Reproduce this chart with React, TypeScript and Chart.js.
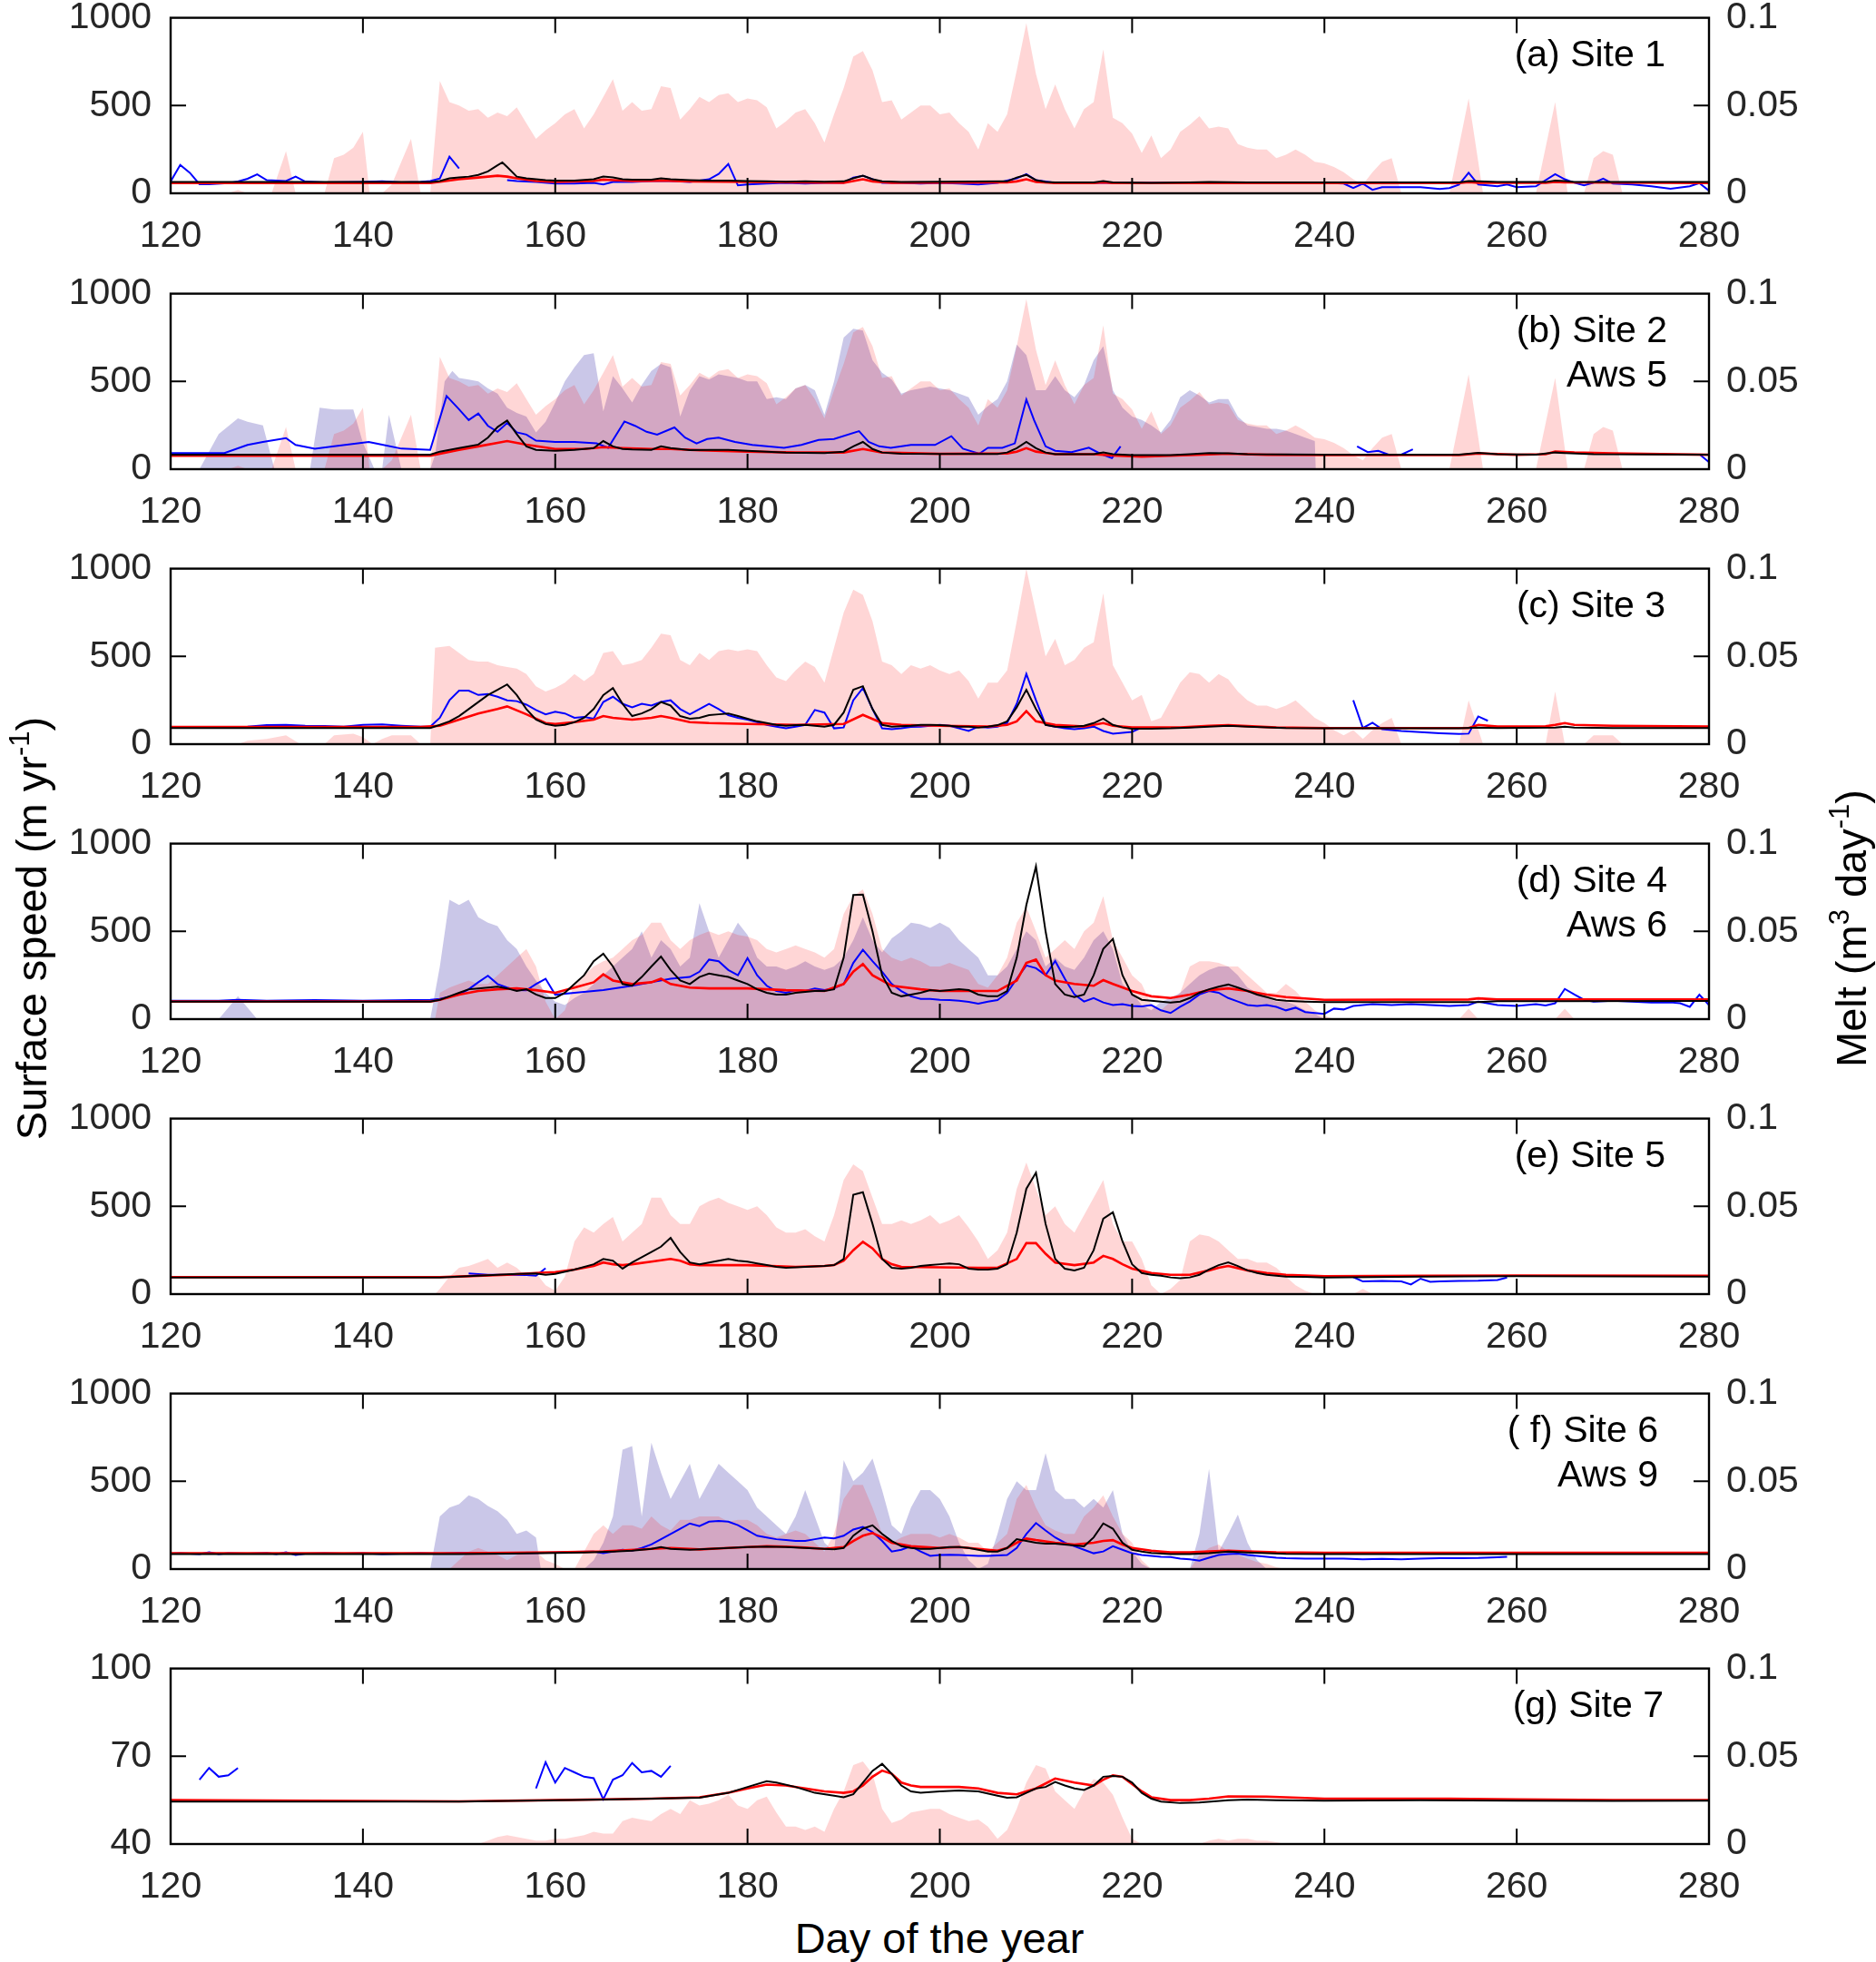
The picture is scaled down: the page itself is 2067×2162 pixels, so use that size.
import { useEffect, useRef } from "react";
import { Chart, registerables } from "chart.js";

Chart.register(...registerables);

type Pt = [number, number | null];

// axes
const dayTicks = [120, 140, 160, 180, 200, 220, 240, 260, 280];
const speedTicks = [0, 500, 1000];
const speedTicksG = [40, 70, 100];
const meltTicks = [0, 0.05, 0.1];
const meltTickLabels = ["0", "0.05", "0.1"];

// panel captions
const labelsA = ["(a) Site 1"];
const labelsB = ["(b) Site 2", "Aws 5"];
const labelsC = ["(c) Site 3"];
const labelsD = ["(d) Site 4", "Aws 6"];
const labelsE = ["(e) Site 5"];
const labelsF = ["( f) Site 6", "Aws 9"];
const labelsG = ["(g) Site 7"];

// ---- (a) Site 1 ----
const meltA: Pt[] = [[120,0],[126,0],[127,0.002],[128,0],[130.5,0],[132,0.024],[133,0],[136,0],[137,0.02],[138,0.022],[139,0.026],[140,0.035],[140.7,0],[142,0],[143,0.005],[145,0.031],[146,0],[147,0],[148,0.064],[149,0.052],[150,0.05],[151,0.047],[152,0.048],[153,0.043],[154,0.046],[155,0.044],[156,0.049],[157,0.04],[158,0.031],[159,0.036],[160,0.04],[161,0.045],[162,0.048],[163,0.037],[164,0.045],[165,0.055],[166,0.065],[167,0.047],[168,0.052],[169,0.047],[170,0.048],[171,0.061],[172,0.06],[173,0.042],[174,0.048],[175,0.055],[176,0.052],[177,0.056],[178,0.057],[179,0.052],[180,0.054],[181,0.053],[182,0.049],[183,0.037],[184,0.041],[185,0.046],[186,0.048],[187,0.04],[188,0.029],[189,0.045],[190,0.06],[191,0.078],[192,0.081],[193,0.07],[194,0.052],[195,0.053],[196,0.042],[197,0.046],[198,0.05],[199,0.05],[200,0.045],[201,0.046],[202,0.04],[203,0.035],[204,0.025],[205,0.04],[206,0.035],[207,0.045],[208,0.07],[209,0.097],[210,0.068],[211,0.048],[212,0.062],[213,0.048],[214,0.037],[215,0.048],[216,0.052],[217,0.082],[218,0.043],[219,0.04],[220,0.034],[221,0.023],[222,0.033],[223,0.02],[224,0.025],[225,0.035],[226,0.039],[227,0.044],[228,0.037],[229,0.038],[230,0.037],[231,0.028],[232,0.026],[233,0.025],[234,0.025],[235,0.02],[236,0.022],[237,0.025],[238,0.022],[239,0.018],[240,0.017],[241,0.015],[242,0.012],[243,0.008],[244,0.005],[245,0.012],[246,0.018],[247,0.02],[248,0],[253,0],[255,0.054],[256.5,0],[262,0],[264,0.052],[265.3,0],[267,0],[268,0.02],[269,0.024],[270,0.022],[271,0],[280,0]];
const blueA: Pt[] = [[120,67],[121,162],[122,117],[123,52],[124,52],[126,58],[127,67],[128,83],[129,108],[130,75],[132,70],[133,95],[134,67],[136,62],[140,65],[142,68],[144,62],[146,65],[147,70],[148,84],[149,209],[150,142],[150.1,null],[155,75],[156,70],[158,65],[160,55],[162,55],[164,60],[165,50],[166,65],[168,65],[170,70],[172,70],[174,65],[176,80],[177,110],[178,167],[179,45],[180,50],[182,55],[184,60],[186,55],[188,60],[190,60],[191,90],[192,100],[193,80],[194,60],[196,60],[198,55],[200,60],[202,55],[204,50],[206,60],[208,85],[209,109],[210,75],[212,60],[216,60],[220,60],[230,60],[240,60],[242,55],[243,30],[244,55],[245,20],[246,35],[250,35],[252,25],[253,30],[254,50],[255,117],[256,50],[258,40],[259,50],[260,35],[262,40],[264,109],[265,80],[266,60],[267,45],[268,60],[269,84],[270,55],[272,50],[274,40],[276,26],[278,40],[279,58],[280,15]];
const blackA: Pt[] = [[120,64],[147,64],[148,70],[149,85],[150,90],[151,95],[152,105],[153,125],[154,160],[154.5,176],[155,150],[156,95],[157,85],[158,80],[159,75],[160,72],[162,72],[164,80],[165,95],[166,90],[167,80],[168,78],[170,78],[171,85],[172,80],[174,75],[176,72],[178,72],[180,70],[182,68],[184,66],[186,68],[188,66],[190,68],[191,85],[192,100],[193,80],[194,68],[196,65],[207,68],[208,90],[209,105],[210,75],[211,65],[212,62],[216,62],[217,70],[218,62],[222,60],[226,62],[228,64],[232,62],[254,62],[255,70],[256,68],[258,64],[263,64],[264,72],[265,70],[266,65],[280,64]];
const redA: Pt[] = [[120,58],[147,58],[150,80],[152,90],[154,100],[155,95],[156,85],[158,70],[160,65],[164,70],[165,78],[166,75],[168,70],[171,72],[174,68],[180,65],[190,60],[191,70],[192,80],[193,68],[195,60],[207,62],[208,68],[209,80],[210,65],[212,58],[216,58],[217,62],[218,58],[254,58],[255,63],[256,60],[263,60],[264,65],[265,62],[280,58]];

// ---- (b) Site 2 / Aws 5 ----
const meltB: Pt[] = meltA;
const awsB: Pt[] = [[120,0],[123,0],[125,0.02],[127,0.029],[128,0.027],[129.6,0.025],[130.8,0],[134.5,0],[135.5,0.035],[137,0.034],[139,0.034],[140,0.015],[141.2,0],[142,0],[142.7,0.031],[144,0],[147,0],[147.5,0.008],[148.5,0.05],[149.3,0.056],[150,0.052],[151,0.051],[152,0.05],[153,0.046],[154,0.043],[155,0.035],[156,0.032],[157,0.03],[158,0.021],[159,0.027],[160,0.038],[161,0.05],[162,0.058],[163,0.065],[164,0.066],[165,0.033],[166,0.053],[167,0.046],[168,0.038],[169,0.048],[170,0.056],[171,0.06],[172,0.058],[173,0.03],[174,0.045],[175,0.053],[176,0.051],[177,0.054],[178,0.053],[179,0.052],[180,0.05],[181,0.05],[182,0.04],[183,0.041],[184,0.04],[185,0.046],[186,0.048],[187,0.045],[188,0.031],[189,0.05],[190,0.075],[191,0.08],[192,0.079],[193,0.062],[194,0.055],[195,0.051],[196,0.043],[197,0.045],[198,0.046],[199,0.047],[200,0.046],[201,0.045],[202,0.043],[203,0.041],[204,0.031],[205,0.036],[206,0.04],[207,0.05],[208,0.071],[209,0.065],[210,0.045],[211,0.045],[212,0.053],[213,0.045],[214,0.041],[215,0.048],[216,0.062],[217,0.07],[218,0.045],[219,0.035],[220,0.03],[221,0.028],[222,0.025],[223,0.021],[224,0.028],[225,0.041],[226,0.045],[227,0.042],[228,0.038],[229,0.04],[230,0.04],[231,0.03],[232,0.025],[233,0.024],[234,0.023],[235,0.023],[236,0.022],[237,0.02],[238,0.018],[239,0.016],[239.1,0],[280,0]];
const blueB: Pt[] = [[120,92],[125.6,92],[128,138],[129.6,155],[132,177],[133,138],[135,117],[137,130],[140.6,155],[142,140],[144,117],[147,110],[148.7,417],[149.9,347],[151,280],[152,317],[153,247],[154,213],[155,263],[156,210],[157,197],[158,163],[160,155],[162,155],[164.3,147],[165.5,122],[167.2,272],[168.3,247],[169.5,213],[170.6,197],[172.4,238],[173.5,180],[174.7,147],[175.8,172],[177,180],[178.7,155],[180.5,138],[182,130],[183.8,122],[185.6,138],[187.4,167],[189,172],[191.6,217],[192.6,155],[193.7,130],[194.9,122],[197,138],[199.5,138],[201.2,188],[202.4,117],[204.1,88],[205,122],[206.5,122],[207.8,147],[209,397],[209.8,280],[211,130],[212,105],[213.7,97],[215.5,122],[216.7,88],[217.9,63],[218.8,130],[218.9,null],[243.4,130],[244.5,97],[245.6,105],[246.8,80],[248,83],[249.2,113],[249.3,null],[279,85],[280,40]];
const blackB: Pt[] = [[120,83],[147,83],[148,100],[150,120],[152,140],[153,180],[154,240],[155,277],[156,200],[157,130],[158,110],[160,105],[162,110],[164,120],[165,160],[166,130],[167,115],[168,112],[170,110],[171,130],[172,120],[174,108],[176,110],[178,110],[180,105],[184,95],[188,92],[190,100],[191,130],[192,155],[193,115],[194,95],[196,88],[206,87],[207,95],[208,120],[209,155],[210,120],[211,95],[212,85],[216,85],[217,95],[218,85],[220,80],[224,80],[226,85],[228,92],[230,90],[232,85],[240,83],[254,83],[256,93],[258,85],[262,83],[264,95],[265,92],[268,85],[280,83]];
const redB: Pt[] = [[120,77],[147,77],[150,110],[152,130],[154,150],[155,160],[157,140],[160,115],[163,115],[165,125],[167,120],[170,115],[172,115],[175,108],[180,100],[185,95],[190,95],[192,115],[194,95],[200,87],[207,90],[208,100],[209,120],[210,100],[212,85],[216,85],[218,78],[221,72],[226,80],[230,88],[234,82],[240,80],[254,80],[256,90],[260,82],[263,85],[264,100],[266,95],[270,90],[280,82]];

// ---- (c) Site 3 ----
const meltC: Pt[] = [[120,0],[127,0],[128,0.002],[130,0.003],[132,0.005],[133.5,0],[136,0],[137,0.005],[139,0.006],[140,0.004],[141,0],[142,0.003],[143,0.005],[145,0.005],[146,0],[147,0],[147.5,0.055],[149,0.056],[150,0.052],[151,0.048],[152,0.047],[153,0.047],[154,0.045],[155,0.044],[156,0.043],[157,0.04],[158,0.033],[159,0.03],[160,0.032],[161,0.035],[162,0.04],[163,0.036],[164,0.04],[165,0.052],[166,0.053],[167,0.045],[168,0.046],[169,0.048],[170,0.055],[171,0.063],[172,0.062],[173,0.048],[174,0.045],[175,0.052],[176,0.048],[177,0.053],[178,0.054],[179,0.053],[180,0.054],[181,0.053],[182,0.045],[183,0.038],[184,0.036],[185,0.042],[186,0.047],[187,0.044],[188,0.035],[189,0.055],[190,0.075],[191,0.088],[192,0.085],[193,0.07],[194,0.047],[195,0.045],[196,0.04],[197,0.045],[198,0.043],[199,0.045],[200,0.042],[201,0.04],[202,0.042],[203,0.036],[204,0.026],[205,0.035],[206,0.035],[207,0.042],[208,0.07],[209,0.1],[210,0.075],[211,0.05],[212,0.06],[213,0.045],[214,0.048],[215,0.055],[216,0.058],[217,0.086],[218,0.045],[219,0.035],[220,0.025],[221,0.028],[222,0.013],[223,0.015],[224,0.025],[225,0.035],[226,0.041],[227,0.04],[228,0.035],[229,0.04],[230,0.037],[231,0.03],[232,0.025],[233,0.022],[234,0.022],[235,0.02],[236,0.022],[237,0.025],[238,0.02],[239,0.015],[240,0.012],[241,0.008],[242,0.005],[243,0.008],[244,0.003],[245,0.008],[246,0.012],[247,0.015],[248,0],[254,0],[255,0.025],[256.5,0],[263,0],[264,0.03],[265,0],[267,0],[268,0.005],[270,0.005],[271,0],[280,0]];
const blueC: Pt[] = [[120,95],[126,95],[128,100],[130,108],[132,110],[134,105],[136,103],[138,100],[140,110],[142,112],[144,105],[146,100],[147,100],[148,150],[149,250],[150,305],[151,305],[152,280],[153,285],[154,270],[155,250],[156,245],[157,225],[158,195],[159,170],[160,185],[161,175],[162,150],[163,155],[164,145],[165,240],[166,270],[167,230],[168,210],[169,230],[170,220],[171,240],[172,250],[173,200],[174,170],[175,200],[176,230],[177,200],[178,165],[179,150],[180,140],[181,125],[182,110],[183,100],[184,90],[185,100],[186,110],[187,195],[188,180],[189,90],[190,95],[191,250],[192,320],[193,200],[194,90],[195,85],[196,90],[197,98],[198,100],[200,110],[201,105],[202,90],[203,75],[204,100],[205,95],[206,100],[207,120],[208,230],[209,400],[210,250],[211,110],[212,100],[213,90],[214,85],[215,90],[216,100],[217,75],[218,60],[219,65],[220,70],[221,95],[221.1,null],[243,250],[244,92],[245,122],[246,85],[248,75],[250,68],[252,62],[254,58],[255,60],[256,158],[257,133]];
const blackC: Pt[] = [[120,92],[147,92],[148,110],[149,130],[150,160],[151,200],[152,240],[153,280],[154,310],[155,340],[156,280],[157,200],[158,140],[159,115],[160,105],[161,110],[162,125],[163,150],[164,200],[165,280],[166,320],[167,230],[168,160],[169,175],[170,200],[171,240],[172,220],[173,160],[174,145],[175,150],[176,165],[177,170],[178,175],[179,160],[180,145],[181,130],[182,120],[183,110],[184,105],[185,108],[186,110],[187,105],[188,100],[189,110],[190,180],[191,310],[192,330],[193,200],[194,110],[195,100],[196,102],[197,105],[198,110],[199,110],[200,108],[201,105],[202,100],[203,100],[204,95],[205,100],[206,108],[207,130],[208,210],[209,310],[210,200],[211,110],[212,100],[213,98],[214,100],[215,105],[216,120],[217,145],[218,110],[219,95],[220,88],[222,88],[224,90],[226,95],[228,100],[230,105],[232,100],[236,92],[240,90],[254,90],[256,95],[258,92],[264,95],[265,100],[266,95],[270,92],[280,92]];
const redC: Pt[] = [[120,98],[146,98],[148,105],[150,140],[152,175],[154,200],[155,215],[157,170],[159,120],[160,115],[162,125],[164,140],[165,160],[166,150],[168,140],[170,150],[171,160],[172,150],[174,125],[176,120],[180,115],[185,110],[190,115],[192,167],[194,120],[196,110],[200,105],[205,100],[207,110],[208,130],[209,188],[210,130],[212,110],[215,100],[217,120],[218,105],[220,95],[225,95],[228,105],[230,108],[235,95],[240,92],[255,92],[256,110],[258,100],[263,102],[264,110],[265,120],[266,110],[270,105],[280,100]];

// ---- (d) Site 4 / Aws 6 ----
const meltD: Pt[] = [[120,0],[147.5,0],[148,0.015],[149,0.018],[150,0.02],[151,0.022],[152,0.02],[153,0.02],[154,0.025],[155,0.03],[156,0.035],[157,0.04],[158,0.03],[159,0.01],[160,0],[161,0.005],[162,0.02],[163,0.025],[164,0.03],[165,0.033],[166,0.035],[167,0.04],[168,0.045],[169,0.048],[170,0.055],[171,0.055],[172,0.045],[173,0.04],[174,0.045],[175,0.048],[176,0.05],[177,0.048],[178,0.05],[179,0.048],[180,0.047],[181,0.045],[182,0.04],[183,0.038],[184,0.04],[185,0.042],[186,0.04],[187,0.038],[188,0.035],[189,0.04],[190,0.06],[191,0.07],[192,0.074],[193,0.06],[194,0.04],[195,0.035],[196,0.033],[197,0.035],[198,0.033],[199,0.03],[200,0.03],[201,0.032],[202,0.03],[203,0.028],[204,0.02],[205,0.018],[206,0.025],[207,0.035],[208,0.055],[209,0.064],[210,0.05],[211,0.035],[212,0.04],[213,0.045],[214,0.04],[215,0.05],[216,0.055],[217,0.07],[218,0.045],[219,0.035],[220,0.025],[221,0.02],[222,0.008],[223,0.005],[224,0.01],[225,0.015],[226,0.03],[227,0.033],[228,0.033],[229,0.032],[230,0.03],[231,0.03],[232,0.025],[233,0.02],[234,0.015],[235,0.015],[236,0.02],[237,0.016],[238,0.01],[239,0.005],[240,0.002],[241,0],[254,0],[255,0.006],[256,0],[264,0],[265,0.006],[266,0],[280,0]];
const awsD: Pt[] = [[120,0],[125,0],[127,0.013],[129,0],[147,0],[148,0.03],[149,0.068],[150,0.065],[151,0.068],[152,0.058],[153,0.055],[154,0.053],[155,0.045],[156,0.04],[157,0.03],[158,0.022],[159,0.015],[160,0.01],[161,0.008],[162,0.012],[163,0.015],[164,0.02],[165,0.025],[166,0.03],[167,0.035],[168,0.04],[169,0.05],[170,0.035],[171,0.045],[172,0.04],[173,0.03],[174,0.035],[175,0.066],[176,0.05],[177,0.035],[178,0.045],[179,0.055],[180,0.048],[181,0.035],[182,0.03],[183,0.03],[184,0.028],[185,0.03],[186,0.033],[187,0.03],[188,0.028],[189,0.03],[190,0.035],[191,0.045],[192,0.058],[193,0.045],[194,0.038],[195,0.046],[196,0.05],[197,0.055],[198,0.054],[199,0.052],[200,0.055],[201,0.052],[202,0.045],[203,0.04],[204,0.035],[205,0.025],[206,0.025],[207,0.03],[208,0.04],[209,0.05],[210,0.045],[211,0.03],[212,0.035],[213,0.03],[214,0.028],[215,0.035],[216,0.045],[217,0.05],[218,0.04],[219,0.02],[220,0.015],[221,0.008],[222,0.005],[223,0.01],[224,0.012],[225,0.015],[226,0.02],[227,0.025],[228,0.028],[229,0.03],[230,0.03],[231,0.025],[232,0.018],[233,0.015],[234,0.012],[235,0.01],[236,0.01],[237,0.008],[238,0.005],[239,0.003],[240,0],[280,0]];
const blueD: Pt[] = [[120,105],[125,105],[127,110],[130,105],[135,108],[140,105],[145,108],[147,110],[148,115],[150,140],[151,170],[152,210],[153,247],[154,200],[155,180],[156,165],[157,164],[158,200],[159,230],[160,139],[162,150],[165,165],[168,190],[170,210],[172,230],[174,240],[175,270],[176,339],[177,330],[178,280],[179,250],[180,348],[181,250],[182,190],[183,160],[184,150],[185,165],[186,160],[187,175],[188,165],[189,175],[190,200],[191,320],[192,395],[193,330],[194,270],[195,200],[196,160],[197,130],[198,115],[199,115],[200,110],[201,108],[202,105],[203,98],[204,88],[205,100],[206,108],[207,150],[208,230],[209,306],[210,290],[211,250],[212,331],[213,230],[214,140],[215,100],[216,120],[217,95],[218,80],[219,85],[220,75],[221,72],[222,80],[223,50],[224,35],[225,70],[226,100],[227,140],[228,160],[229,150],[230,120],[231,100],[232,80],[233,75],[234,80],[235,70],[236,50],[237,65],[238,40],[239,35],[240,30],[241,60],[242,55],[243,75],[244,80],[245,85],[247,80],[249,85],[251,80],[253,75],[255,80],[256,100],[258,80],[260,75],[262,85],[263,78],[264,90],[265,172],[266,140],[267,110],[268,100],[270,105],[272,100],[274,95],[276,95],[277,90],[278,70],[279,139],[280,80]];
const blackD: Pt[] = [[120,100],[147,100],[148,110],[149,130],[150,150],[151,170],[152,175],[153,180],[154,185],[155,175],[156,160],[157,170],[158,140],[159,120],[160,120],[161,150],[162,200],[163,250],[164,330],[165,373],[166,300],[167,200],[168,190],[169,240],[170,300],[171,356],[172,280],[173,220],[174,200],[175,240],[176,260],[177,250],[178,240],[179,220],[180,200],[181,170],[182,150],[183,140],[184,140],[185,150],[186,155],[187,160],[188,160],[189,170],[190,350],[191,707],[192,710],[193,500],[194,250],[195,150],[196,130],[197,140],[198,150],[199,165],[200,160],[201,165],[202,170],[203,165],[204,140],[205,130],[206,130],[207,160],[208,350],[209,650],[210,870],[211,500],[212,200],[213,140],[214,125],[215,140],[216,250],[217,400],[218,457],[219,250],[220,140],[221,110],[222,105],[223,100],[224,95],[225,100],[226,120],[227,150],[228,170],[229,185],[230,197],[231,180],[232,160],[233,140],[234,125],[235,110],[236,105],[238,100],[240,97],[256,97],[258,102],[264,102],[280,103]];
const redD: Pt[] = [[120,100],[147,100],[148,110],[150,140],[152,160],[154,170],[156,175],[158,165],[160,150],[162,180],[164,210],[165,255],[166,220],[168,200],[170,210],[171,230],[172,200],[174,180],[176,175],[180,175],[184,165],[188,160],[190,200],[191,270],[192,314],[193,250],[195,190],[198,170],[200,160],[204,160],[206,160],[208,220],[209,320],[210,339],[211,250],[212,220],[214,200],[216,190],[217,222],[218,200],[220,160],[222,130],[224,120],[226,140],[228,165],[230,175],[232,160],[234,140],[236,125],[240,110],[255,112],[256,118],[258,112],[280,112]];

// ---- (e) Site 5 ----
const meltE: Pt[] = [[120,0],[147.5,0],[148,0.003],[149,0.01],[150,0.015],[151,0.016],[152,0.018],[153,0.02],[154,0.015],[155,0.018],[156,0.015],[157,0.01],[158,0.012],[159,0.005],[160,0.002],[161,0.01],[162,0.03],[163,0.038],[164,0.035],[165,0.04],[166,0.044],[167,0.03],[168,0.035],[169,0.04],[170,0.055],[171,0.055],[172,0.045],[173,0.04],[174,0.04],[175,0.05],[176,0.053],[177,0.055],[178,0.052],[179,0.05],[180,0.048],[181,0.05],[182,0.045],[183,0.038],[184,0.035],[185,0.035],[186,0.037],[187,0.033],[188,0.03],[189,0.045],[190,0.065],[191,0.074],[192,0.07],[193,0.055],[194,0.04],[195,0.04],[196,0.042],[197,0.04],[198,0.042],[199,0.045],[200,0.04],[201,0.042],[202,0.045],[203,0.038],[204,0.03],[205,0.02],[206,0.025],[207,0.035],[208,0.06],[209,0.075],[210,0.06],[211,0.045],[212,0.05],[213,0.04],[214,0.035],[215,0.045],[216,0.055],[217,0.065],[218,0.04],[219,0.03],[220,0.03],[221,0.02],[222,0.005],[223,0],[224,0.003],[225,0.008],[226,0.03],[227,0.034],[228,0.033],[229,0.03],[230,0.025],[231,0.02],[232,0.02],[233,0.018],[234,0.018],[235,0.015],[236,0.01],[237,0.005],[238,0.002],[239,0],[243,0],[244,0.003],[245,0],[280,0]];
const blueE: Pt[] = [[151,117],[153,110],[155,110],[157,108],[158,105],[159,147],[159.1,null],[243,97],[244,72],[246,75],[248,72],[249,55],[250,88],[251,70],[252,72],[254,75],[256,76],[258,80],[259,94]];
const blackE: Pt[] = [[120,94],[148,94],[150,100],[152,105],[154,110],[156,115],[158,118],[159,110],[160,115],[162,140],[164,170],[165,200],[166,190],[167,145],[168,180],[169,210],[170,240],[171,270],[172,320],[173,240],[174,180],[175,170],[176,180],[177,190],[178,200],[179,190],[180,185],[181,175],[182,165],[183,155],[184,150],[185,152],[186,155],[187,158],[188,160],[189,165],[190,200],[191,566],[192,580],[193,400],[194,200],[195,150],[196,145],[197,150],[198,160],[199,165],[200,170],[201,175],[202,170],[203,145],[204,140],[205,140],[206,145],[207,170],[208,350],[209,600],[210,692],[211,400],[212,200],[213,145],[214,135],[215,150],[216,250],[217,430],[218,466],[219,300],[220,170],[221,120],[222,110],[223,105],[224,95],[225,90],[226,95],[227,110],[228,140],[229,165],[230,181],[231,160],[232,135],[233,120],[234,110],[235,105],[236,100],[238,98],[240,95],[250,100],[260,102],[280,100]];
const redE: Pt[] = [[120,97],[148,97],[150,100],[155,110],[158,120],[160,125],[162,140],[164,160],[165,180],[166,170],[167,165],[168,170],[170,185],[172,200],[173,190],[174,170],[175,165],[180,165],[185,155],[188,160],[189,165],[190,190],[191,250],[192,298],[193,260],[194,200],[195,170],[196,155],[204,150],[206,150],[208,200],[209,290],[210,290],[211,230],[212,180],[214,165],[216,180],[217,218],[218,200],[219,170],[220,145],[222,120],[224,110],[226,110],[228,135],[229,150],[230,160],[232,135],[234,120],[236,110],[240,102],[250,104],[260,106],[280,105]];

// ---- (f) Site 6 / Aws 9 ----
const meltF: Pt[] = [[120,0],[149,0],[150,0.005],[151,0.01],[152,0.012],[153,0.01],[154,0.008],[155,0.005],[156,0.008],[157,0.01],[158,0.01],[159,0.005],[160,0.003],[161,0],[162,0],[163,0.01],[164,0.02],[165,0.025],[166,0.02],[167,0.025],[168,0.025],[169,0.023],[170,0.03],[171,0.025],[172,0.022],[173,0.028],[174,0.028],[175,0.03],[176,0.03],[177,0.03],[178,0.027],[179,0.028],[180,0.028],[181,0.025],[182,0.02],[183,0.018],[184,0.02],[185,0.022],[186,0.02],[187,0.015],[188,0.01],[189,0.02],[190,0.04],[191,0.048],[192,0.048],[193,0.035],[194,0.02],[195,0.015],[196,0.018],[197,0.02],[198,0.02],[199,0.02],[200,0.018],[201,0.02],[202,0.018],[203,0.015],[204,0.015],[205,0.01],[206,0.015],[207,0.02],[208,0.04],[209,0.048],[210,0.035],[211,0.025],[212,0.022],[213,0.02],[214,0.02],[215,0.03],[216,0.035],[217,0.042],[218,0.03],[219,0.02],[220,0.015],[221,0.005],[222,0],[226,0],[227,0.008],[228,0.012],[229,0.014],[230,0.01],[231,0.008],[232,0.006],[233,0.004],[234,0.003],[235,0.001],[236,0],[280,0]];
const awsF: Pt[] = [[120,0],[147,0],[148,0.03],[149,0.035],[150,0.037],[151,0.042],[152,0.04],[153,0.036],[154,0.033],[155,0.028],[156,0.02],[157,0.022],[158,0.018],[158.5,0],[163,0],[164,0.005],[165,0.015],[166,0.03],[167,0.068],[168,0.07],[169,0.03],[170,0.072],[171,0.055],[172,0.04],[173,0.05],[174,0.06],[175,0.04],[176,0.05],[177,0.06],[178,0.055],[179,0.05],[180,0.045],[181,0.035],[182,0.03],[183,0.025],[184,0.02],[185,0.03],[186,0.045],[187,0.03],[188,0.015],[189,0.01],[190,0.062],[191,0.05],[192,0.055],[193,0.063],[194,0.045],[195,0.025],[196,0.02],[197,0.035],[198,0.045],[199,0.045],[200,0.04],[201,0.03],[202,0.015],[203,0.005],[204,0],[205,0.003],[206,0.02],[207,0.04],[208,0.05],[209,0.045],[210,0.045],[211,0.066],[212,0.045],[213,0.04],[214,0.04],[215,0.035],[216,0.04],[217,0.035],[218,0.045],[219,0.02],[220,0.01],[221,0.003],[222,0],[226,0],[227,0.02],[228,0.057],[229,0.01],[230,0.02],[231,0.031],[232,0.015],[233,0.005],[234,0],[280,0]];
const blueF: Pt[] = [[120,88],[121,90],[122,88],[123,85],[124,95],[125,85],[126,90],[128,88],[130,92],[131,85],[132,95],[133,80],[134,88],[136,90],[138,88],[140,90],[142,85],[144,88],[146,90],[148,88],[150,92],[152,90],[154,92],[156,90],[158,92],[160,95],[162,98],[164,100],[165,90],[166,100],[167,110],[168,105],[169,120],[170,140],[171,170],[172,200],[173,230],[174,260],[175,245],[176,270],[177,274],[178,270],[179,250],[180,220],[181,190],[182,180],[183,170],[184,165],[185,160],[186,160],[187,170],[188,180],[189,175],[190,190],[191,225],[192,240],[193,210],[194,160],[195,100],[196,110],[197,130],[198,100],[199,75],[200,80],[201,82],[202,80],[203,78],[204,75],[205,75],[206,78],[207,80],[208,120],[209,200],[210,262],[211,220],[212,180],[213,150],[214,130],[215,110],[216,90],[217,100],[218,130],[219,110],[220,90],[221,80],[222,75],[223,70],[224,68],[225,60],[226,55],[227,48],[228,65],[229,80],[230,85],[231,88],[232,80],[233,75],[234,70],[235,65],[236,62],[238,60],[240,60],[242,60],[244,55],[246,58],[248,55],[250,60],[252,62],[254,62],[256,63],[258,67],[259,70]];
const blackF: Pt[] = [[120,85],[150,85],[155,88],[160,92],[163,95],[166,100],[168,105],[170,115],[171,125],[172,115],[174,110],[176,115],[178,120],[180,125],[182,128],[184,125],[186,120],[188,115],[189,112],[190,120],[191,190],[192,230],[193,249],[194,200],[195,160],[196,130],[197,120],[198,115],[199,115],[200,120],[201,125],[202,125],[203,120],[204,110],[205,100],[206,100],[207,120],[208,170],[209,160],[210,150],[211,145],[212,145],[213,140],[214,135],[215,130],[216,180],[217,260],[218,230],[219,150],[220,110],[221,100],[222,92],[224,85],[226,85],[228,90],[230,100],[232,95],[234,90],[236,86],[240,85],[280,85]];
const redF: Pt[] = [[120,90],[150,90],[160,95],[165,100],[170,115],[172,120],[175,112],[178,120],[180,125],[182,130],[184,128],[186,122],[188,115],[190,125],[191,160],[192,190],[193,205],[194,180],[195,150],[197,130],[200,120],[202,125],[204,115],[206,105],[207,120],[208,150],[209,174],[210,165],[212,150],[214,140],[216,150],[217,160],[218,165],[219,140],[220,120],[222,105],[224,95],[226,95],[228,100],[230,105],[232,100],[235,95],[240,93],[280,93]];

// ---- (g) Site 7 ----
const meltG: Pt[] = [[120,0],[152,0],[153,0.002],[154,0.004],[155,0.005],[156,0.004],[157,0.003],[158,0.002],[159,0.002],[160,0.003],[161,0.003],[162,0.004],[163,0.005],[164,0.007],[165,0.006],[166,0.006],[167,0.013],[168,0.015],[169,0.014],[170,0.013],[171,0.017],[172,0.02],[173,0.017],[174,0.025],[175,0.022],[176,0.023],[177,0.025],[178,0.028],[179,0.022],[180,0.02],[181,0.025],[182,0.027],[183,0.018],[184,0.01],[185,0.01],[186,0.008],[187,0.01],[188,0.007],[189,0.02],[190,0.03],[191,0.045],[192,0.047],[193,0.04],[194,0.02],[195,0.012],[196,0.014],[197,0.018],[198,0.019],[199,0.02],[200,0.02],[201,0.017],[202,0.015],[203,0.013],[204,0.014],[205,0.01],[206,0.003],[207,0.008],[208,0.02],[209,0.035],[210,0.045],[211,0.043],[212,0.03],[213,0.025],[214,0.02],[215,0.03],[216,0.037],[217,0.035],[218,0.028],[219,0.015],[220,0.003],[221,0],[227,0],[228,0.002],[229,0.003],[230,0.002],[231,0.003],[232,0.003],[233,0.002],[234,0.002],[235,0.001],[236,0],[280,0]];
const blueG: Pt[] = [[123,62],[124,66],[125,63],[126,63.5],[127,66],[127.1,null],[158,59],[159,68],[160,61],[161,66],[162,64.5],[163,63],[164,62.5],[165,55.3],[166,62],[167,63.5],[168,67.7],[169,64.5],[170,65],[171,63],[172,66.7]];
const blackG: Pt[] = [[120,54.5],[150,54.5],[160,55],[165,55.2],[170,55.5],[175,55.8],[178,57.5],[180,59.5],[182,61.5],[183,61],[185,59.5],[187,57.5],[189,56.5],[190,56],[191,57],[192,61],[193,65],[194,67.4],[195,64],[196,60],[197,58],[198,57.5],[200,58],[202,58.3],[204,58],[206,56.5],[207,55.8],[208,56],[209,57.5],[210,59],[211,59.5],[212,61.2],[213,60],[214,59],[215,58.5],[216,60],[217,63],[218,63.3],[219,63],[220,61],[221,57.5],[222,55.5],[223,54.5],[225,54],[227,54.2],[230,55],[232,55.2],[235,55],[240,54.8],[250,55],[260,54.8],[270,54.7],[280,54.8]];
const redG: Pt[] = [[120,55],[150,54.6],[160,55],[170,55.5],[175,56],[178,57.5],[180,59],[182,60.3],[184,60],[186,59],[188,58],[190,57.5],[191,58],[192,60],[193,63],[194,65.1],[195,64],[196,61],[197,60],[198,59.5],[202,59.5],[204,59],[206,57.5],[208,57],[210,59],[212,62.4],[214,61],[216,60],[217,62],[218,63.5],[219,63],[220,60.5],[221,58],[222,56],[224,55],[226,55],[228,55.5],[230,56.3],[234,56.2],[240,55.5],[253,55.5],[260,55.3],[270,55],[280,55]];

const panels = [
  { lines: labelsA, labelInset: 48, melt: meltA, aws: null, blue: blueA, red: redA, black: blackA, yTicks: speedTicks },
  { lines: labelsB, labelInset: 46, melt: meltB, aws: awsB, blue: blueB, red: redB, black: blackB, yTicks: speedTicks },
  { lines: labelsC, labelInset: 48, melt: meltC, aws: null, blue: blueC, red: redC, black: blackC, yTicks: speedTicks },
  { lines: labelsD, labelInset: 46, melt: meltD, aws: awsD, blue: blueD, red: redD, black: blackD, yTicks: speedTicks },
  { lines: labelsE, labelInset: 48, melt: meltE, aws: null, blue: blueE, red: redE, black: blackE, yTicks: speedTicks },
  { lines: labelsF, labelInset: 56, melt: meltF, aws: awsF, blue: blueF, red: redF, black: blackF, yTicks: speedTicks },
  { lines: labelsG, labelInset: 50, melt: meltG, aws: null, blue: blueG, red: redG, black: blackG, yTicks: speedTicksG },
];

// layout
const W = 2067;
const H = 2162;
const PAD_TOP = 40;
const PLOT_H = 199;
const X_AXIS_H = 75;
const CANVAS_H = PAD_TOP + PLOT_H + X_AXIS_H;
const PLOT_LEFT = 188;
const PLOT_RIGHT = 1883;
const TICK = 17;
const FONT = '"Liberation Sans", Arial, Helvetica, sans-serif';
const TEXT = "#262626";

const plotTop = (i: number) => Math.round(14.3 + 303.2 * i);
const toXY = (pts: Pt[]) => pts.map(([x, y]) => ({ x, y }));

const framePlugin: any = {
  id: "frame",
  afterDatasetsDraw(chart: any, _args: any, opts: any) {
    const { ctx, chartArea: a, scales } = chart;
    ctx.save();
    ctx.strokeStyle = "#000";
    ctx.lineWidth = 2;
    ctx.beginPath();
    dayTicks.forEach((d) => {
      const x = scales.x.getPixelForValue(d);
      if (x <= a.left + 1 || x >= a.right - 1) return;
      ctx.moveTo(x, a.bottom);
      ctx.lineTo(x, a.bottom - TICK);
      ctx.moveTo(x, a.top);
      ctx.lineTo(x, a.top + TICK);
    });
    const yl = scales.y.getPixelForValue(opts.midLeft);
    ctx.moveTo(a.left, yl);
    ctx.lineTo(a.left + TICK, yl);
    const yr = scales.y1.getPixelForValue(meltTicks[1]);
    ctx.moveTo(a.right, yr);
    ctx.lineTo(a.right - TICK, yr);
    ctx.stroke();
    ctx.lineWidth = 2.4;
    ctx.strokeRect(a.left, a.top, a.right - a.left, a.bottom - a.top);
    ctx.fillStyle = "#000";
    ctx.font = `41px ${FONT}`;
    ctx.textAlign = "right";
    ctx.textBaseline = "middle";
    (opts.lines as string[]).forEach((t, k) => ctx.fillText(t, a.right - opts.inset, a.top + 42 + k * 49));
    ctx.restore();
  },
};

function Panel({ index }: { index: number }) {
  const canvasRef = useRef<HTMLCanvasElement>(null);
  const cfg = panels[index];

  useEffect(() => {
    if (!canvasRef.current) return;

    const line = (label: string, pts: Pt[], color: string, width: number, order: number) => ({
      type: "line",
      label,
      data: toXY(pts),
      borderColor: color,
      borderWidth: width,
      pointRadius: 0,
      tension: 0,
      fill: false,
      spanGaps: false,
      yAxisID: "y",
      order,
    });
    const area = (label: string, pts: Pt[], color: string, order: number) => ({
      type: "line",
      label,
      data: toXY(pts),
      borderColor: "rgba(0,0,0,0)",
      borderWidth: 0,
      backgroundColor: color,
      pointRadius: 0,
      tension: 0,
      fill: "origin",
      yAxisID: "y1",
      order,
    });

    const datasets: any[] = [
      line("Model B", cfg.black, "#000000", 2, 0),
      line("Model A", cfg.red, "#ff0000", 2.6, 1),
      line("Observed", cfg.blue, "#0000ff", 2, 2),
      area("Melt", cfg.melt, "rgba(255,0,0,0.16)", 3),
    ];
    if (cfg.aws) datasets.push(area("AWS melt", cfg.aws, "rgba(80,70,180,0.3)", 4));

    const tickFont = { family: FONT, size: 41 };

    const chart = new Chart(canvasRef.current, {
      type: "line",
      data: { datasets },
      plugins: [framePlugin],
      options: {
        animation: false,
        responsive: false,
        maintainAspectRatio: false,
        events: [],
        layout: { padding: { top: PAD_TOP, bottom: 0, left: 0, right: 0 } },
        plugins: {
          legend: { display: false },
          tooltip: { enabled: false },
          frame: { lines: cfg.lines, midLeft: cfg.yTicks[1], inset: cfg.labelInset },
        } as any,
        scales: {
          x: {
            type: "linear",
            position: "bottom",
            min: dayTicks[0],
            max: dayTicks[dayTicks.length - 1],
            afterBuildTicks: (s: any) => { s.ticks = dayTicks.map((v) => ({ value: v })); },
            afterFit: (s: any) => { s.height = X_AXIS_H; },
            grid: { display: false, drawTicks: false },
            border: { display: false },
            ticks: { font: tickFont, color: TEXT, padding: 23, maxRotation: 0, autoSkip: false, callback: (v: any) => String(v) },
          },
          y: {
            type: "linear",
            position: "left",
            min: cfg.yTicks[0],
            max: cfg.yTicks[2],
            afterBuildTicks: (s: any) => { s.ticks = cfg.yTicks.map((v) => ({ value: v })); },
            afterFit: (s: any) => { s.width = PLOT_LEFT; },
            grid: { display: false, drawTicks: false },
            border: { display: false },
            ticks: { font: tickFont, color: TEXT, padding: 21, callback: (v: any) => String(v) },
          },
          y1: {
            type: "linear",
            position: "right",
            min: meltTicks[0],
            max: meltTicks[2],
            afterBuildTicks: (s: any) => { s.ticks = meltTicks.map((v) => ({ value: v })); },
            afterFit: (s: any) => { s.width = W - PLOT_RIGHT; },
            grid: { display: false, drawTicks: false },
            border: { display: false },
            ticks: { font: tickFont, color: TEXT, padding: 19, callback: (_v: any, i: number) => meltTickLabels[i] },
          },
        },
      } as any,
    });

    return () => {
      chart.destroy();
    };
  }, [cfg]);

  return (
    <canvas
      ref={canvasRef}
      width={W}
      height={CANVAS_H}
      style={{ position: "absolute", left: 0, top: plotTop(index) - PAD_TOP, width: W, height: CANVAS_H, display: "block" }}
    />
  );
}

const supStyle: React.CSSProperties = { fontSize: "0.66em", position: "relative", top: "-0.62em" };

export default function App() {
  const midY = (plotTop(0) + plotTop(6) + PLOT_H) / 2;
  return (
    <div style={{ position: "absolute", left: 0, top: 0, width: W, height: H, overflow: "hidden", background: "#fff", fontFamily: FONT, color: "#000" }}>
      {panels.map((_, i) => (
        <Panel key={i} index={i} />
      ))}
      <div style={{ position: "absolute", left: 35 - 350, top: midY - 28, width: 700, height: 56, lineHeight: "56px", textAlign: "center", fontSize: 47, transform: "rotate(-90deg)", whiteSpace: "nowrap" }}>
        Surface speed (m yr<span style={supStyle}>-1</span>)
      </div>
      <div style={{ position: "absolute", left: 2040 - 350, top: midY - 28, width: 700, height: 56, lineHeight: "56px", textAlign: "center", fontSize: 47, transform: "rotate(-90deg)", whiteSpace: "nowrap" }}>
        Melt (m<span style={supStyle}>3</span> day<span style={supStyle}>-1</span>)
      </div>
      <div style={{ position: "absolute", left: 1035 - 300, top: 2136 - 28, width: 600, height: 56, lineHeight: "56px", textAlign: "center", fontSize: 47, whiteSpace: "nowrap" }}>
        Day of the year
      </div>
    </div>
  );
}
